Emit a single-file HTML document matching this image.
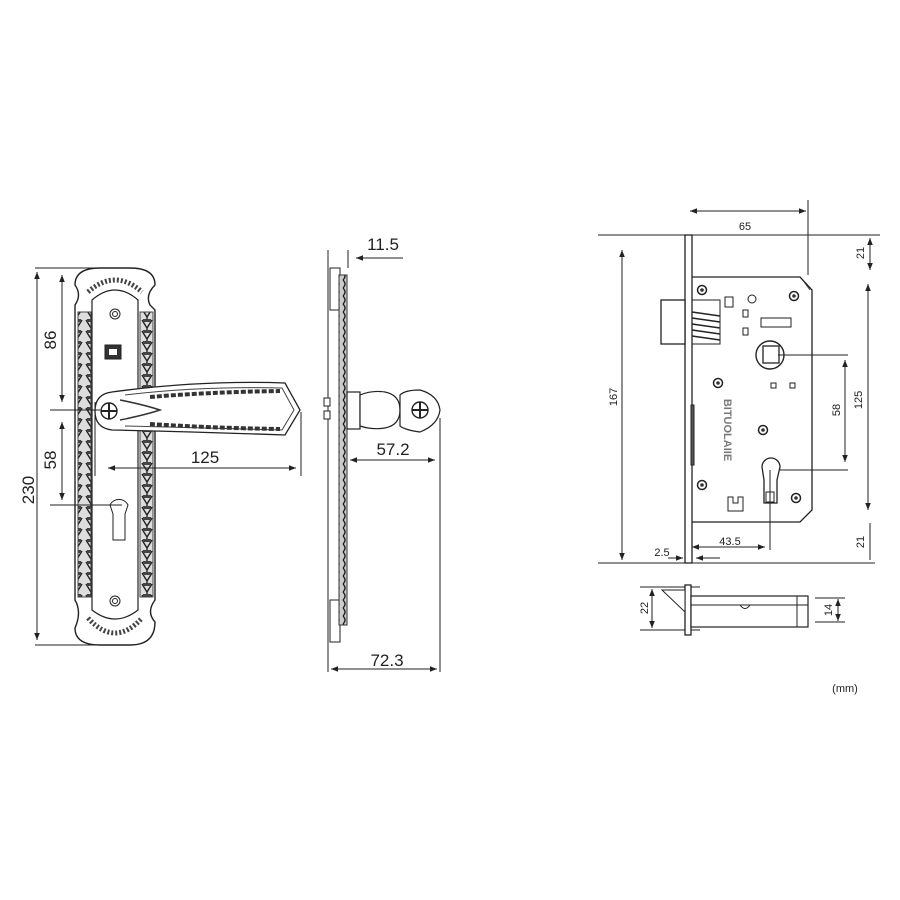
<!DOCTYPE html>
<html><head><meta charset="utf-8"><style>
html,body{margin:0;padding:0;background:#fff;}
svg{display:block;}
text{font-family:"Liberation Sans",sans-serif;fill:#222;}
</style></head><body>
<svg width="900" height="900" viewBox="0 0 900 900" xmlns="http://www.w3.org/2000/svg">
<defs>
<marker id="a" viewBox="0 0 10 10" refX="10" refY="5" markerWidth="7" markerHeight="7" orient="auto-start-reverse"><path d="M0,1 L10,5 L0,9 z" fill="#222"/></marker>
<pattern id="beads" width="14" height="11" patternUnits="userSpaceOnUse"><rect width="14" height="11" fill="#ddd"/><path d="M2,1 L7,9 L12,1 M7,9 V11" stroke="#222" stroke-width="1.4" fill="none"/><rect x="3" y="0" width="8" height="3" fill="#444"/></pattern>
<pattern id="side" width="6" height="8" patternUnits="userSpaceOnUse"><rect width="6" height="8" fill="#ccc"/><path d="M1,0 Q5,4 1,8" stroke="#222" stroke-width="1.4" fill="none"/></pattern>
</defs>
<g stroke="#222" stroke-width="1" fill="none">
<!-- Handle front plate -->
<path d="M75,285 Q75,268 100,268 L130,268 Q155,268 155,285 Q145,295 150,305 L155,310 L155,600 Q146,612 155,622 Q155,645 130,645 L100,645 Q75,645 75,628 Q82,612 75,600 L75,305 Q82,295 75,285 z" stroke-width="1.4"/>
<rect x="78" y="312" width="13" height="285" fill="url(#beads)" stroke="#444"/>
<rect x="140" y="312" width="13" height="285" fill="url(#beads)" stroke="#444"/>
<path d="M92,300 Q115,280 138,300 L138,610 Q115,628 92,610 z" fill="#fff" stroke-width="1.2"/>
<path d="M88,292 Q115,268 142,292" stroke="#444" stroke-width="5" stroke-dasharray="2 2"/>
<path d="M88,618 Q115,648 142,618" stroke="#444" stroke-width="5" stroke-dasharray="2 2"/>
<circle cx="115" cy="314" r="5"/><circle cx="115" cy="314" r="2.5"/>
<circle cx="115" cy="601" r="5"/><circle cx="115" cy="601" r="2.5"/>
<rect x="105" y="345" width="16" height="14" fill="#333"/>
<rect x="109" y="349" width="8" height="6" fill="#fff" stroke="none"/>
<path d="M110,505 A10,10 0 0 1 128,505 L125,514 L125,540 L113,540 L113,514 z" fill="#fff"/>
<!-- lever -->
<path d="M112,392 Q200,380 285,383 L300,410 L285,435 Q200,432 112,430 Q95,428 95,411 Q95,394 112,392 z" fill="#fff" stroke-width="1.3"/>
<path d="M125,395 Q200,386 282,388 L294,410 L282,430 Q200,428 125,426" stroke="#444"/>
<path d="M150,397 Q210,392 280,391" stroke="#333" stroke-width="4" stroke-dasharray="5 2"/>
<path d="M150,424 Q210,428 280,429" stroke="#333" stroke-width="4" stroke-dasharray="5 2"/>
<path d="M120,400 Q145,405 160,410 Q145,415 120,420" stroke="#333" stroke-width="1.5"/>
<circle cx="109" cy="411" r="8" fill="#fff" stroke-width="1.4"/>
<path d="M101,411 H117 M109,403 V419" stroke-width="2"/>
<!-- Handle dims -->
<path d="M35,268 H100 M50,410 H100 M50,505 H122 M35,645 H100"/>
<path d="M37,272 V640" marker-start="url(#a)" marker-end="url(#a)"/>
<path d="M62,275 V402" marker-start="url(#a)" marker-end="url(#a)"/>
<path d="M62,422 V500" marker-start="url(#a)" marker-end="url(#a)"/>
<path d="M95,402 V476 M301,412 V476"/>
<path d="M108,468 H296" marker-start="url(#a)" marker-end="url(#a)"/>
<!-- Side view -->
<path d="M328,250 V672 M348,250 V268 M440,418 V672"/>
<rect x="330" y="268" width="10" height="42" fill="#fff"/>
<rect x="330" y="600" width="10" height="42" fill="#fff"/>
<rect x="339" y="275" width="8" height="350" fill="url(#side)" stroke="#333"/>
<rect x="324" y="398" width="6" height="8" fill="#fff"/><rect x="324" y="411" width="6" height="8" fill="#fff"/>
<rect x="347" y="392" width="13" height="37" fill="#fff" stroke-width="1.2"/>
<path d="M360,395 Q372,390 385,392 Q400,395 400,410 Q400,425 385,428 Q372,430 360,426 z" fill="#fff" stroke-width="1.2"/>
<path d="M400,395 Q405,390 420,390 Q438,395 440,410 Q438,425 420,432 Q405,430 400,426 z" fill="#fff" stroke-width="1.2"/>
<circle cx="420" cy="410" r="8" fill="#fff" stroke-width="1.4"/>
<path d="M412,410 H428 M420,402 V418" stroke-width="2"/>
<path d="M403,258 H356" marker-end="url(#a)"/>
<path d="M350,460 H435" marker-start="url(#a)" marker-end="url(#a)"/>
<path d="M331,669 H437" marker-start="url(#a)" marker-end="url(#a)"/>
<!-- Lock body -->
<path d="M598,235 H880 M598,563 H875 M808,200 V275"/>
<rect x="685" y="235" width="7" height="328" fill="#fff" stroke-width="1.3"/>
<path d="M692,277 H800 L812,290 V510 L800,522 H692" stroke-width="1.3"/>
<path d="M802,279 L810,290" stroke-width="0.8"/>
<rect x="661" y="300" width="24" height="44" fill="#fff" stroke-width="1.3"/>
<rect x="692" y="300" width="28" height="44"/>
<path d="M692,312 L720,316 M692,318 L720,322 M692,324 L720,328 M692,330 L720,334 M692,336 L720,340" stroke-width="1.6"/>
<rect x="725" y="297" width="8" height="10"/>
<circle cx="752" cy="299" r="4"/>
<rect x="743" y="310" width="5" height="7"/><rect x="743" y="328" width="5" height="7"/>
<rect x="761" y="318" width="30" height="9"/>
<circle cx="770" cy="355" r="14" stroke-width="1.4"/>
<rect x="763" y="346" width="16" height="17" stroke-width="1.3"/>
<rect x="771" y="383" width="5" height="5"/><rect x="790" y="383" width="5" height="5"/>
<path d="M762,467 A9,9 0 0 1 780,467 L777,480 L777,503 L764,503 L764,480 z" stroke-width="1.3"/>
<rect x="766" y="492" width="8" height="10"/>
<path d="M728,497 h5 v6 h5 v-6 h5 v14 h-15 z" stroke-width="1"/>
<rect x="691" y="405" width="3" height="60" fill="#555"/>
<g fill="#fff" stroke-width="1.5">
<circle cx="702" cy="290" r="4.5"/><circle cx="794" cy="296" r="4.5"/><circle cx="718" cy="383" r="4.5"/>
<circle cx="763" cy="430" r="4.5"/><circle cx="702" cy="485" r="4.5"/><circle cx="796" cy="498" r="4.5"/>
</g>
<g fill="#333" stroke="none">
<circle cx="702" cy="290" r="1.8"/><circle cx="794" cy="296" r="1.8"/><circle cx="718" cy="383" r="1.8"/>
<circle cx="763" cy="430" r="1.8"/><circle cx="702" cy="485" r="1.8"/><circle cx="796" cy="498" r="1.8"/>
</g>
<!-- lock dims -->
<path d="M690,211 H806" marker-start="url(#a)" marker-end="url(#a)"/>
<path d="M870,238 V270" marker-start="url(#a)" marker-end="url(#a)"/>
<path d="M622,250 V560" marker-start="url(#a)" marker-end="url(#a)"/>
<path d="M868,284 V510" marker-start="url(#a)" marker-end="url(#a)"/>
<path d="M845,360 V462" marker-start="url(#a)" marker-end="url(#a)"/>
<path d="M778,355 H848 M780,470 H848 M770,470 V550"/>
<path d="M870,523 V560"/>
<path d="M692,547 H765" marker-start="url(#a)" marker-end="url(#a)"/>
<path d="M668,558 H683" marker-end="url(#a)"/><path d="M720,558 H696" marker-end="url(#a)"/>
<!-- bottom view -->
<path d="M640,587 H700 M640,630 H700 M815,598 H845 M815,622 H845"/>
<rect x="685" y="585" width="6" height="50" fill="#fff" stroke-width="1.3"/>
<path d="M662,590 H685 V612 z" fill="#fff"/>
<rect x="691" y="596" width="117" height="31" fill="#fff" stroke-width="1.2"/>
<path d="M691,605 H808 M797,596 V627 M740,605 Q745,612 750,605"/>
<path d="M652,589 V628" marker-start="url(#a)" marker-end="url(#a)"/>
<path d="M838,599 V621" marker-start="url(#a)" marker-end="url(#a)"/>
</g>
<text x="0" y="0" font-size="11" font-weight="bold" text-anchor="middle" transform="translate(724,430) rotate(90)" style="fill:#777">BITUOLAIIE</text>
<g font-size="17">
<text x="205" y="463" text-anchor="middle">125</text>
<text x="383" y="250" text-anchor="middle">11.5</text>
<text x="393" y="455" text-anchor="middle">57.2</text>
<text x="387" y="666" text-anchor="middle">72.3</text>
<text transform="translate(34,490) rotate(-90)" text-anchor="middle">230</text>
<text transform="translate(56,340) rotate(-90)" text-anchor="middle">86</text>
<text transform="translate(56,460) rotate(-90)" text-anchor="middle">58</text>
</g>
<g font-size="11">
<text x="745" y="230" text-anchor="middle">65</text>
<text x="730" y="545" text-anchor="middle">43.5</text>
<text x="662" y="556" text-anchor="middle">2.5</text>
<text x="845" y="692" text-anchor="middle">(mm)</text>
<text transform="translate(864,253) rotate(-90)" text-anchor="middle">21</text>
<text transform="translate(864,542) rotate(-90)" text-anchor="middle">21</text>
<text transform="translate(617,397) rotate(-90)" text-anchor="middle">167</text>
<text transform="translate(862,400) rotate(-90)" text-anchor="middle">125</text>
<text transform="translate(840,410) rotate(-90)" text-anchor="middle">58</text>
<text transform="translate(648,608) rotate(-90)" text-anchor="middle">22</text>
<text transform="translate(832,610) rotate(-90)" text-anchor="middle">14</text>
</g>
</svg>
</body></html>
